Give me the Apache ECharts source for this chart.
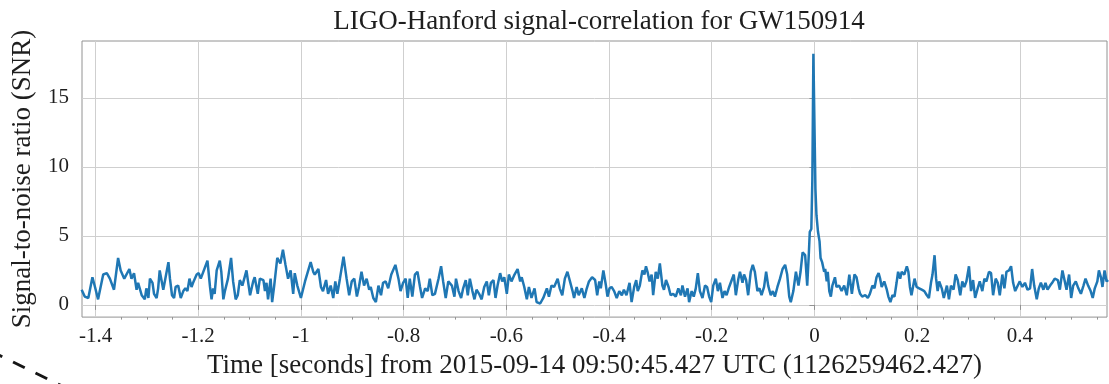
<!DOCTYPE html>
<html>
<head>
<meta charset="utf-8">
<script src="https://cdn.jsdelivr.net/npm/echarts@6/dist/echarts.min.js"></script>
<style>
html,body{margin:0;padding:0;background:#fff;}
#chart{width:1109px;height:384px;}
</style>
</head>
<body>
<div id="chart"></div>
<script>
const chartTitle = 'LIGO-Hanford signal-correlation for GW150914';
const xAxisName = 'Time [seconds] from 2015-09-14 09:50:45.427 UTC (1126259462.427)';
const yAxisName = 'Signal-to-noise ratio (SNR)';
const xMajorTicks = [-1.4, -1.2, -1, -0.8, -0.6, -0.4, -0.2, 0, 0.2, 0.4];
const xMinorTicks = [-1.35, -1.3, -1.25, -1.15, -1.1, -1.05, -0.95, -0.9, -0.85, -0.75, -0.7, -0.65,
  -0.55, -0.5, -0.45, -0.35, -0.3, -0.25, -0.15, -0.1, -0.05, 0.05, 0.1, 0.15, 0.25, 0.3, 0.35, 0.45, 0.5, 0.55];
const yMajorTicks = [0, 5, 10, 15];
const xRange = [-1.4263, 0.5698];
const yRange = [-0.886, 19.13];

// [time (s), SNR]
const snrSeries = [
  [-1.427,1.1],[-1.421,0.6],[-1.414,0.5],[-1.406,2.0],[-1.401,1.3],[-1.395,0.4],[-1.385,2.2],[-1.378,2.3],[-1.372,1.9],[-1.369,2.0],
  [-1.364,1.1],[-1.356,3.4],[-1.351,2.5],[-1.344,1.9],[-1.334,2.6],[-1.330,1.9],[-1.325,2.3],[-1.320,1.1],[-1.317,1.6],[-1.310,0.7],
  [-1.304,0.4],[-1.301,1.2],[-1.297,0.5],[-1.294,1.9],[-1.289,1.6],[-1.286,0.8],[-1.281,0.5],[-1.278,1.2],[-1.275,2.5],[-1.271,1.7],
  [-1.268,1.1],[-1.264,1.9],[-1.258,3.1],[-1.255,1.9],[-1.251,0.7],[-1.247,0.5],[-1.244,1.3],[-1.239,1.4],[-1.234,0.5],[-1.229,1.0],
  [-1.225,1.2],[-1.221,1.0],[-1.217,1.9],[-1.213,1.3],[-1.210,1.6],[-1.203,2.2],[-1.199,2.3],[-1.195,1.9],[-1.182,3.2],[-1.177,1.3],
  [-1.174,0.4],[-1.171,1.2],[-1.168,0.8],[-1.164,2.5],[-1.158,3.2],[-1.155,2.4],[-1.151,0.4],[-1.148,1.0],[-1.142,1.9],[-1.136,3.4],
  [-1.132,1.7],[-1.127,0.4],[-1.123,0.7],[-1.119,1.8],[-1.114,1.4],[-1.106,2.5],[-1.103,1.7],[-1.099,0.7],[-1.093,1.7],[-1.090,2.0],
  [-1.084,0.8],[-1.080,1.9],[-1.073,1.8],[-1.070,1.0],[-1.067,1.6],[-1.064,0.4],[-1.059,1.9],[-1.056,0.2],[-1.052,1.4],[-1.046,3.4],
  [-1.040,3.0],[-1.035,4.0],[-1.030,2.9],[-1.025,1.9],[-1.020,2.5],[-1.015,0.8],[-1.012,2.3],[-1.007,1.4],[-1.000,0.5],[-0.992,1.7],
  [-0.981,3.1],[-0.976,2.4],[-0.973,2.2],[-0.966,2.6],[-0.961,1.3],[-0.957,1.0],[-0.951,1.8],[-0.947,0.8],[-0.942,1.4],[-0.937,0.5],
  [-0.933,1.7],[-0.929,0.8],[-0.924,1.9],
  [-0.917,3.5],[-0.911,1.9],[-0.906,0.7],[-0.901,1.7],[-0.896,1.9],[-0.891,0.6],[-0.887,1.3],[-0.882,2.4],[-0.877,1.4],[-0.872,1.9],
  [-0.867,1.1],[-0.864,1.3],[-0.859,0.5],[-0.854,0.2],[-0.849,1.4],[-0.844,0.7],[-0.840,1.6],[-0.835,1.7],[-0.830,1.2],[-0.824,2.2],
  [-0.816,2.9],[-0.810,1.9],[-0.806,1.0],[-0.801,1.6],[-0.796,1.9],[-0.792,0.5],[-0.788,1.9],[-0.783,0.6],[-0.778,2.2],[-0.773,2.4],
  [-0.768,1.3],[-0.764,0.5],[-0.758,1.2],[-0.753,1.0],[-0.749,1.9],[-0.744,0.7],[-0.739,0.8],[-0.732,1.9],[-0.727,2.8],[-0.723,1.7],
  [-0.718,0.5],[-0.713,1.7],[-0.706,1.4],[-0.701,0.6],[-0.698,1.9],[-0.693,1.0],[-0.688,0.5],[-0.684,1.2],[-0.679,1.8],[-0.675,0.7],
  [-0.671,1.9],[-0.666,1.0],[-0.662,0.4],[-0.658,1.1],[-0.653,0.8],[-0.648,0.4],[-0.643,1.3],[-0.638,1.7],[-0.634,0.7],[-0.630,1.6],
  [-0.625,1.8],[-0.621,0.5],[-0.617,1.4],[-0.612,2.3],[-0.608,1.7],[-0.604,2.0],[-0.599,0.8],[-0.595,2.2],[-0.590,1.7],[-0.584,2.2],
  [-0.578,2.6],[-0.573,1.7],[-0.570,2.0],[-0.565,1.3],[-0.560,0.4],[-0.556,1.3],[-0.551,0.5],[-0.545,1.2],[-0.541,0.2],[-0.534,0.1],
  [-0.528,0.5],[-0.521,1.2],[-0.517,0.6],[-0.512,1.4],[-0.507,1.3],[-0.500,1.9],[-0.496,1.2],[-0.491,0.7],[-0.486,1.9],[-0.481,2.4],
  [-0.476,1.7],[-0.471,1.0],[-0.468,0.5],[-0.463,1.3],[-0.459,0.7],[-0.453,1.2],[-0.448,0.5],[-0.444,1.1],[-0.439,1.7],[-0.433,2.0],
  [-0.427,1.8],
  [-0.425,1.7],[-0.423,0.7],[-0.419,1.7],[-0.416,1.2],[-0.411,2.5],[-0.406,1.4],[-0.403,0.6],[-0.399,1.2],[-0.395,1.3],[-0.390,1.0],
  [-0.385,0.5],[-0.380,1.0],[-0.375,0.7],[-0.371,1.1],[-0.366,0.7],[-0.360,1.6],[-0.356,0.2],[-0.351,1.3],[-0.347,1.8],[-0.344,1.0],
  [-0.340,1.4],[-0.335,2.5],[-0.331,2.2],[-0.328,2.8],[-0.325,2.4],[-0.321,1.7],[-0.317,2.2],[-0.314,0.7],[-0.309,2.4],[-0.305,1.9],
  [-0.301,3.0],[-0.296,1.4],[-0.293,1.1],[-0.289,1.8],[-0.284,1.3],[-0.280,0.7],[-0.275,0.8],[-0.270,0.6],[-0.265,1.2],[-0.260,0.7],
  [-0.257,1.4],[-0.252,0.6],[-0.247,1.2],[-0.244,0.2],[-0.239,1.0],[-0.235,0.6],[-0.231,1.2],[-0.227,2.3],[-0.223,1.0],[-0.218,0.5],
  [-0.213,1.4],[-0.209,1.3],[-0.205,0.6],[-0.201,0.2],[-0.197,1.4],[-0.192,1.9],[-0.188,1.0],[-0.184,1.6],[-0.179,0.5],[-0.175,1.0],
  [-0.171,0.7],[-0.166,1.3],[-0.161,1.8],[-0.157,2.2],[-0.153,0.7],[-0.148,1.9],[-0.145,2.4],[-0.140,1.6],[-0.137,2.2],[-0.133,1.8],
  [-0.129,0.7],[-0.124,2.4],[-0.120,2.9],[-0.116,2.4],[-0.111,1.0],[-0.107,1.2],[-0.103,0.7],[-0.098,1.3],[-0.094,2.4],[-0.090,1.4],
  [-0.085,0.7],[-0.081,1.0],[-0.077,0.6],[-0.072,1.3],[-0.067,1.9],[-0.062,2.6],[-0.057,2.9],[-0.053,2.2],[-0.049,0.6],[-0.046,0.2],
  [-0.041,1.0],[-0.036,2.4],[-0.031,1.4],[-0.027,2.4],[-0.023,3.8],[-0.018,3.6],[-0.015,3.5],[-0.014,1.4],[-0.011,3.6],[-0.009,5.3],
  [-0.006,5.5],[-0.004,9.1],[-0.002,18.2],[0.000,18.3],[0.002,8.4],[0.004,6.5],[0.007,5.3],[0.010,4.6],[0.012,3.4],[0.015,3.1],
  [0.019,2.4],[0.021,2.6],[0.024,1.7],[0.026,2.4],[0.029,1.0],[0.032,0.6],[0.035,1.4],[0.040,2.0],[0.043,1.3],[0.048,1.4],
  [0.053,1.0],[0.058,1.4],[0.063,0.7],[0.068,2.2],
  [0.069,1.9],[0.073,0.8],[0.078,2.2],[0.082,2.0],[0.086,1.2],[0.089,0.8],[0.093,0.6],[0.099,0.7],[0.104,0.5],[0.108,0.8],
  [0.113,1.4],[0.117,1.2],[0.121,2.0],[0.125,2.3],[0.128,1.9],[0.131,1.3],[0.136,1.7],[0.141,1.1],[0.144,0.6],[0.148,0.2],
  [0.152,0.7],[0.156,0.6],[0.160,1.6],[0.163,2.4],[0.167,1.9],[0.170,2.4],[0.175,2.2],[0.180,2.8],[0.183,2.4],[0.186,1.3],
  [0.189,0.7],[0.195,1.9],[0.199,1.3],[0.204,1.2],[0.209,1.1],[0.214,1.0],[0.219,0.7],[0.223,0.5],[0.227,1.6],[0.230,2.2],
  [0.234,3.6],[0.237,1.9],[0.240,1.0],[0.243,1.7],[0.248,1.2],[0.252,0.5],[0.258,1.4],[0.262,0.4],[0.266,1.4],[0.271,1.1],
  [0.275,2.2],[0.279,1.8],[0.284,0.7],[0.288,1.7],[0.292,1.3],[0.296,1.7],[0.301,2.8],[0.305,1.0],[0.309,1.8],[0.313,0.5],
  [0.318,1.2],[0.322,1.7],[0.327,1.0],[0.331,1.9],[0.335,1.7],[0.340,2.4],[0.344,2.3],[0.348,0.7],[0.353,1.9],[0.357,1.6],
  [0.361,0.7],[0.366,2.2],[0.370,1.2],[0.374,2.4],[0.379,2.5],[0.383,2.8],[0.387,1.6],[0.391,1.0],[0.396,1.4],[0.400,1.7],
  [0.405,1.3],[0.410,1.6],[0.415,1.1],[0.420,1.2],[0.424,2.6],[0.428,1.4],[0.433,0.4],[0.437,1.2],[0.441,1.6],[0.446,1.1],
  [0.450,1.6],[0.454,1.1],[0.459,1.4],[0.463,1.6],[0.468,1.9],[0.474,1.8],[0.478,1.1],[0.483,2.5],[0.487,1.8],[0.491,1.1],
  [0.496,2.2],[0.500,0.5],[0.504,1.4],[0.509,1.7],[0.514,1.2],[0.519,0.8],[0.524,1.4],[0.528,1.9],[0.533,1.4],[0.538,1.0],
  [0.542,0.5],[0.546,1.2],[0.551,1.7],[0.554,2.5],[0.558,2.0],[0.561,1.3],[0.565,2.5],[0.569,1.7],[0.572,1.8]
];

const FONT = 'Liberation Serif';
const TEXT = '#1e1e1e';
const FRAME = '#929292';

const chart = echarts.init(document.getElementById('chart'), null, {renderer: 'canvas'});
chart.setOption({
  animation: false,
  backgroundColor: '#ffffff',
  title: {
    text: chartTitle,
    left: 594,
    top: 3,
    textAlign: 'center',
    textStyle: {fontFamily: FONT, fontSize: 27, fontWeight: 'normal', color: TEXT}
  },
  grid: {
    left: 82, right: 2, top: 41, bottom: 65,
    show: true, borderColor: FRAME, borderWidth: 1, backgroundColor: 'transparent'
  },
  xAxis: [{
    type: 'value',
    min: xRange[0], max: xRange[1],
    position: 'bottom',
    name: xAxisName,
    nameLocation: 'middle',
    nameGap: 33,
    nameTextStyle: {fontFamily: FONT, fontSize: 27, color: TEXT},
    axisLine: {show: false},
    axisTick: {show: true, customValues: xMajorTicks, length: 5, inside: false, lineStyle: {color: FRAME, width: 1}},
    axisLabel: {customValues: xMajorTicks, fontFamily: FONT, fontSize: 21, color: TEXT, margin: 9},
    splitLine: {show: true, lineStyle: {color: '#cfcfcf', width: 1}}
  }, {
    type: 'value',
    min: xRange[0], max: xRange[1],
    position: 'bottom',
    axisLine: {show: false},
    axisTick: {show: true, customValues: xMinorTicks, length: 2.5, lineStyle: {color: FRAME, width: 1}},
    axisLabel: {show: false},
    splitLine: {show: false}
  }],
  yAxis: {
    type: 'value',
    min: yRange[0], max: yRange[1],
    name: yAxisName,
    nameLocation: 'middle',
    nameRotate: 90,
    nameGap: 46,
    nameTextStyle: {fontFamily: FONT, fontSize: 27, color: TEXT},
    axisLine: {show: false},
    axisTick: {show: true, customValues: yMajorTicks, length: 5, lineStyle: {color: FRAME, width: 1}},
    axisLabel: {customValues: yMajorTicks, fontFamily: FONT, fontSize: 21, color: TEXT, margin: 13},
    splitLine: {show: true, lineStyle: {color: '#cfcfcf', width: 1}}
  },
  graphic: [{
    type: 'line',
    silent: true,
    shape: {x1: -9.4, y1: 351, x2: 62, y2: 386},
    style: {stroke: '#161616', lineWidth: 3, lineDash: [13, 12]}
  }],
  series: [{
    type: 'line',
    xAxisIndex: 0,
    data: snrSeries,
    showSymbol: false,
    symbol: 'none',
    clip: true,
    lineStyle: {color: '#1f77b4', width: 2.5},
    z: 3
  }]
});
</script>
</body>
</html>
